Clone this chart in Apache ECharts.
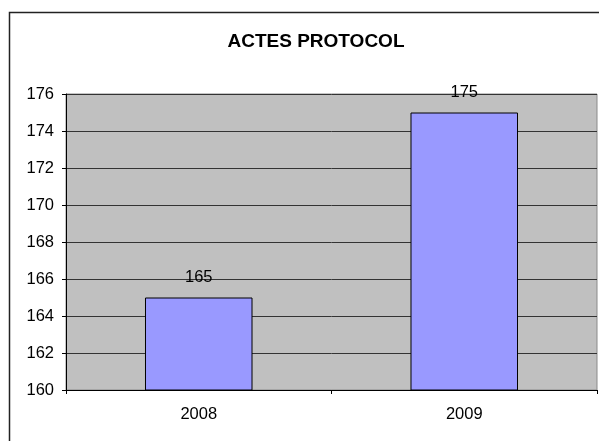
<!DOCTYPE html>
<html>
<head>
<meta charset="utf-8">
<script src="https://cdn.jsdelivr.net/npm/echarts@6/dist/echarts.min.js"></script>
<style>
  html, body { margin: 0; padding: 0; background: #fff; }
  #main { width: 599px; height: 441px; }
</style>
</head>
<body>
<div id="main"></div>
<script>
var years = ['2008', '2009'];
var actes = [165, 175];
var yTicks = { min: 160, max: 176, step: 2 };

var font = '"Liberation Sans", Arial, sans-serif';

var option = {
    animation: false,
    title: {
        text: 'ACTES PROTOCOL',
        left: 311,
        textAlign: 'center',
        top: 27,
        textStyle: { fontFamily: font, fontWeight: 'bold', fontSize: 19, color: '#000' }
    },
    graphic: [{
        type: 'rect',
        shape: { x: 9.5, y: 12.5, width: 700, height: 600 },
        style: { fill: 'none', stroke: '#222', lineWidth: 1.5 },
        z: -1
    }],
    grid: {
        left: 66, top: 94, right: 2, bottom: 51,
        show: true,
        backgroundColor: '#c0c0c0',
        borderColor: '#8a8a8a',
        borderWidth: 1
    },
    xAxis: {
        type: 'category',
        data: years,
        axisLine: { lineStyle: { color: '#000', width: 1 } },
        axisTick: { show: true, length: 4, lineStyle: { color: '#000' } },
        axisLabel: { color: '#000', fontFamily: font, fontSize: 16.5, margin: 16 }
    },
    yAxis: {
        type: 'value',
        min: yTicks.min,
        max: yTicks.max,
        interval: yTicks.step,
        axisLine: { show: true, lineStyle: { color: '#000', width: 1 } },
        axisTick: { show: true, length: 4, lineStyle: { color: '#000' } },
        axisLabel: { color: '#000', fontFamily: font, fontSize: 16.5, margin: 12 },
        splitLine: { show: true, lineStyle: { color: '#333', width: 1 } }
    },
    series: [{
        type: 'bar',
        data: actes,
        barWidth: '40.5%',
        itemStyle: { color: '#9999ff', borderColor: '#000', borderWidth: 1 },
        label: {
            show: true,
            position: 'top',
            distance: 12,
            color: '#000',
            fontFamily: font,
            fontSize: 16.5
        }
    }]
};

var chart = echarts.init(document.getElementById('main'));
chart.setOption(option);
</script>
</body>
</html>
